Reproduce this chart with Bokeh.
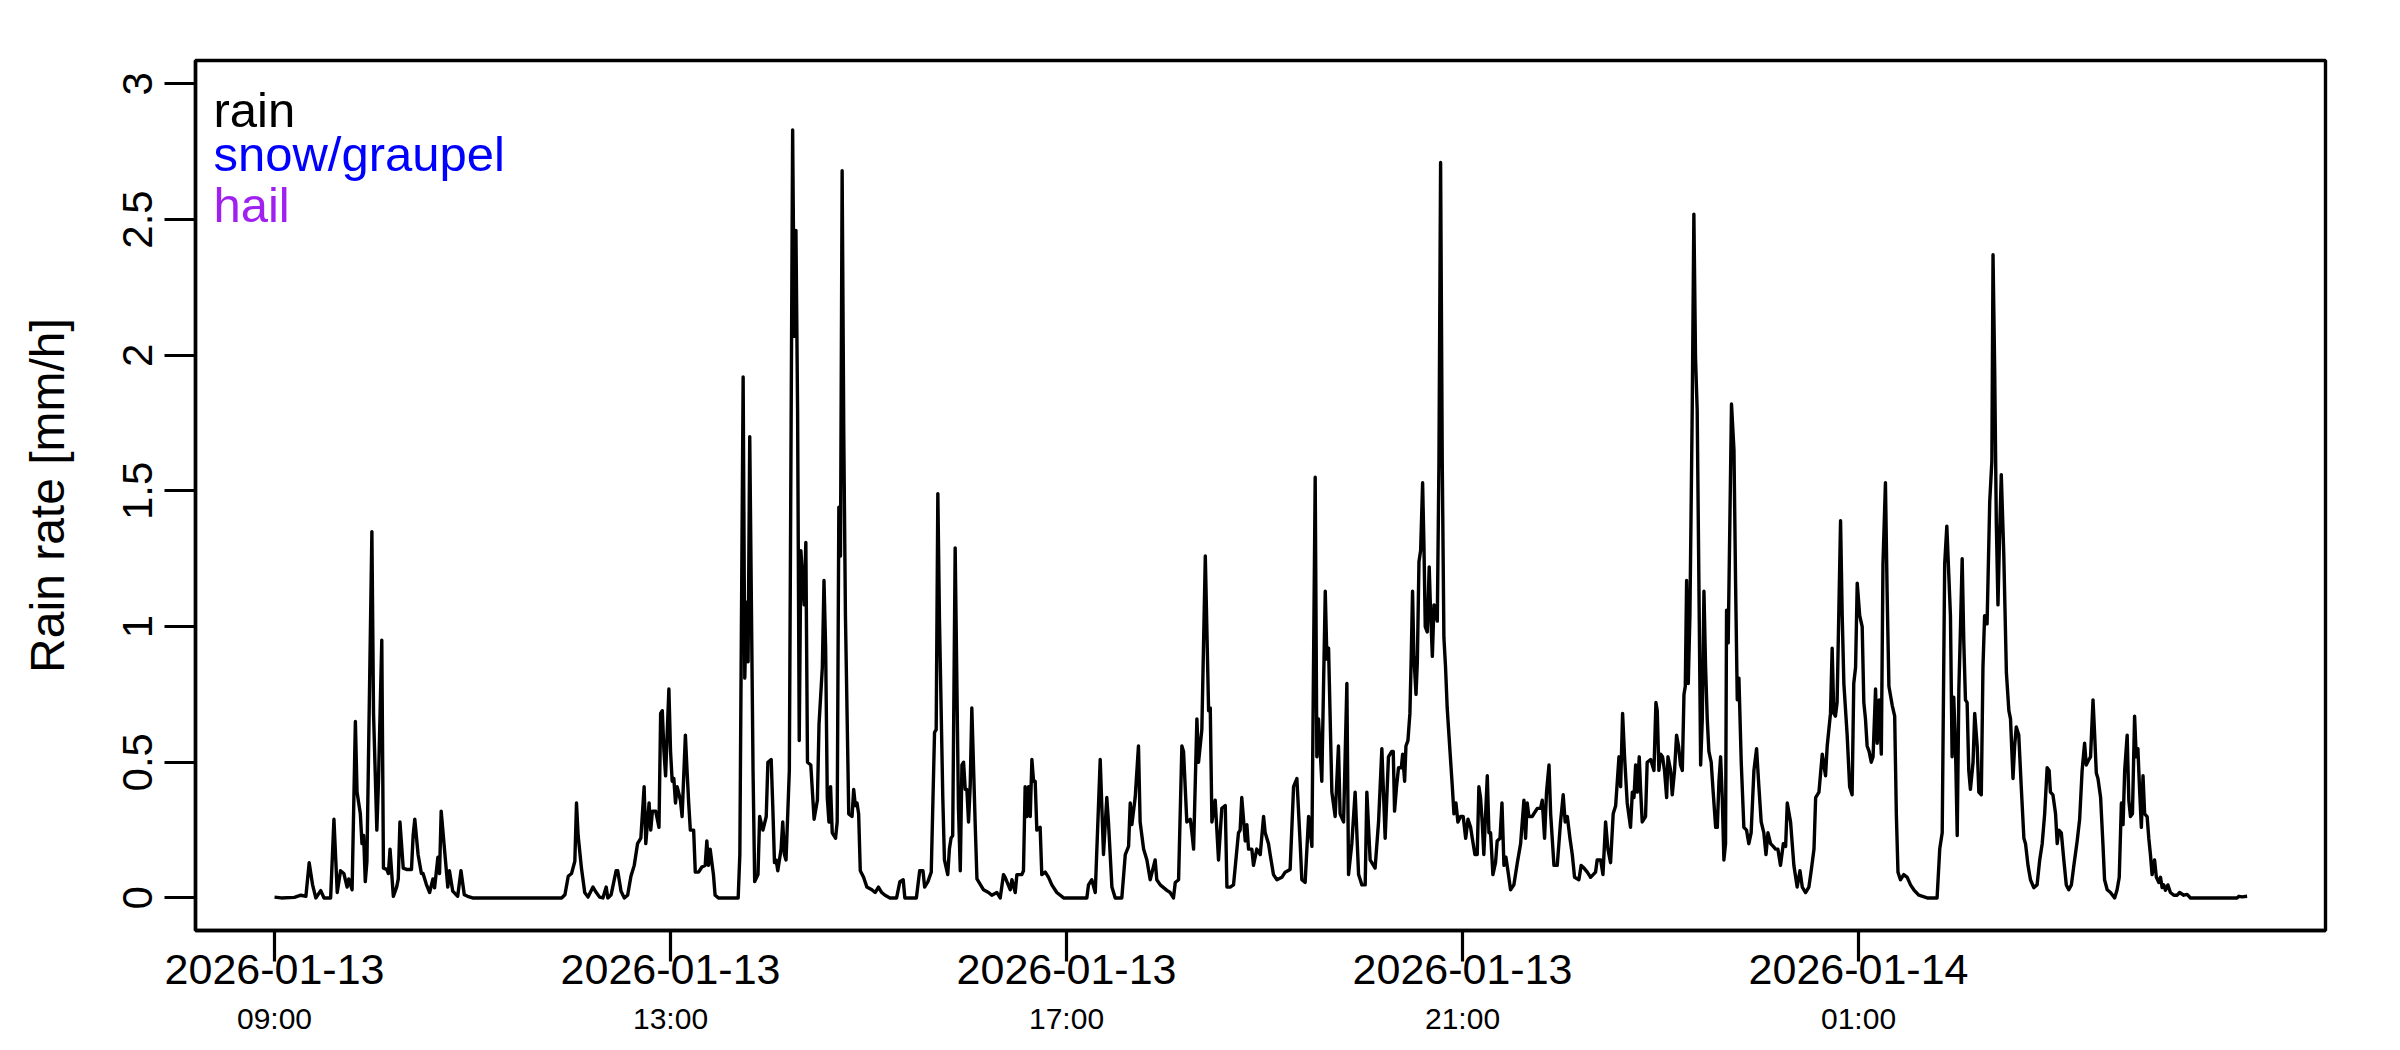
from bokeh.plotting import figure
from bokeh.models import FixedTicker, LinearAxis, Label, Range1d, CustomJSTickFormatter
from bokeh.embed import file_html
from bokeh.resources import INLINE

# minutes after 2026-01-13 09:00
minutes = [
    0, 4, 12, 16, 19, 21, 23, 25, 28, 30, 34, 36, 38, 40, 42, 44, 45, 47, 49, 50,
    52, 53, 54, 55, 56, 59, 60, 62, 63, 65, 66, 68, 69, 70, 72, 74, 75, 76, 78, 80,
    83, 84, 85, 87, 89, 90, 92, 94, 96, 97, 99, 100, 101, 103, 105, 106, 108, 111, 113, 115,
    117, 120, 174, 176, 178, 180, 182, 183, 184, 186, 188, 190, 193, 195, 197, 199, 201, 202, 204, 207,
    208, 210, 212, 214, 216, 218, 220, 222, 224, 225, 227, 228, 229, 231, 233, 234, 235, 236, 237, 239,
    240, 241, 242, 243, 244, 246, 247, 249, 250, 251, 252, 254, 255, 257, 259, 261, 262, 263, 264, 266,
    267, 269, 281, 282, 284, 285, 286, 287, 288, 290, 291, 293, 294, 296, 298, 299, 301, 302, 303, 304,
    305, 307, 308, 309, 310, 312, 314, 315, 316, 317, 318, 319, 321, 322, 323, 325, 327, 329, 330, 332,
    333, 334, 335, 336, 337, 338, 340, 341, 342, 343, 344, 345, 346, 348, 350, 351, 352, 353, 354, 355,
    357, 359, 362, 364, 366, 368, 370, 373, 377, 379, 381, 382, 389, 391, 393, 394, 396, 398, 400, 401,
    402, 403, 405, 406, 408, 409, 410, 411, 412.5, 414.5, 415.6, 416.6, 417.6, 418.6, 419.6, 420.6, 421.6, 422.6, 424.6, 425.7,
    427.7, 429.7, 432.7, 434.7, 437.8, 439.8, 441.8, 442.8, 445.9, 446.9, 448.9, 449.9, 451.9, 452.9, 453.9, 454.9, 456.0, 457.0, 458.0, 459.0,
    460.0, 461.0, 462.0, 464.0, 465.0, 467.1, 469.1, 471.1, 474.1, 478.2, 492.3, 493.3, 495.3, 497.4, 500.4, 502.4, 504.4, 505.4, 507.5, 509.5,
    513.5, 515.6, 517.6, 518.6, 519.6, 521.6, 523.6, 524.6, 526.7, 528.7, 530.7, 533.7, 534.7, 536.8, 538.8, 540.8, 542.8, 544.8, 545.9, 547.9,
    549.9, 550.9, 552.9, 555.0, 556.0, 557.0, 559.0, 560.0, 562.0, 564.1, 566.1, 567.1, 568.1, 570.1, 572.1, 574.1, 576.2, 577.2, 579.2, 581.2,
    584.2, 585.2, 586.2, 588.3, 589.3, 590.3, 592.3, 593.3, 595.3, 597.4, 599.4, 600.4, 602.4, 603.4, 605.4, 607.5, 610.5, 612.5, 615.5, 617.6,
    619.6, 621.6, 622.6, 624.6, 626.7, 628.7, 630.7, 631.7, 632.7, 634.7, 636.8, 637.8, 638.8, 640.8, 642.8, 644.8, 645.8, 647.9, 649.9, 650.9,
    652.9, 654.9, 657.0, 659.0, 661.0, 662.0, 664.0, 667.0, 669.1, 671.1, 673.1, 675.1, 677.1, 678.0, 678.8, 680.0, 681.2, 682.9, 683.7, 684.9,
    685.7, 686.9, 688.1, 688.9, 689.7, 690.5, 691.8, 692.6, 693.6, 694.6, 695.8, 696.6, 697.4, 698.6, 699.8, 700.6, 701.7, 702.7, 703.7, 704.7,
    705.7, 706.7, 707.7, 708.7, 709.7, 710.7, 712.4, 713.8, 714.8, 716.0, 717.2, 718.8, 720.4, 721.9, 723.3, 724.9, 725.9, 727.5, 728.9, 729.9,
    730.9, 731.9, 732.9, 735.0, 736.0, 737.0, 738.4, 740.0, 741.0, 742.7, 743.9, 745.1, 746.3, 747.5, 749.1, 751.1, 753.2, 755.2, 757.2, 758.2,
    759.2, 760.2, 762.2, 765.3, 767.3, 768.3, 769.7, 770.9, 772.4, 773.4, 775.4, 777.4, 779.4, 781.0, 782.2, 783.5, 785.1, 786.5, 787.9, 790.5,
    791.9, 793.6, 795.6, 797.6, 800.6, 801.6, 803.7, 805.1, 806.7, 808.1, 809.7, 811.3, 812.8, 814.8, 815.8, 817.0, 818.2, 819.8, 821.8, 822.9,
    823.9, 824.9, 825.9, 827.1, 827.9, 828.9, 830.9, 831.9, 834.0, 836.0, 837.2, 838.0, 839.0, 840.0, 841.2, 842.4, 843.7, 844.5, 846.1, 847.1,
    848.5, 849.7, 850.9, 852.1, 853.2, 854.2, 855.0, 855.8, 856.8, 857.8, 859.2, 860.2, 861.2, 862.2, 863.3, 864.3, 865.3, 866.3, 867.3, 868.3,
    869.3, 870.7, 871.9, 873.4, 874.4, 875.4, 876.4, 877.4, 878.4, 879.4, 880.0, 881.0, 883.0, 884.5, 885.5, 886.5, 887.5, 888.9, 890.5, 892.1,
    893.5, 894.9, 896.6, 898.2, 899.6, 901.0, 902.6, 903.9, 905.1, 906.7, 908.3, 909.7, 911.1, 912.7, 914.4, 915.8, 916.8, 918.8, 920.8, 922.8,
    924.5, 925.9, 927.9, 929.9, 931.3, 933.0, 934.0, 936.0, 938.0, 940.0, 941.0, 943.0, 944.0, 945.0, 946.0, 947.0, 949.1, 950.1, 951.1, 953.1,
    954.6, 956.1, 957.1, 958.2, 959.2, 960.7, 962.2, 963.2, 964.2, 965.2, 966.4, 967.7, 968.8, 970.3, 971.3, 972.5, 973.8, 974.8, 976.3, 977.3,
    978.4, 980.4, 981.9, 982.9, 983.9, 985.4, 987.4, 989.5, 991.5, 993.5, 996.5, 1001.6, 1007.6, 1009.2, 1010.7, 1012.2, 1013.5, 1014.7, 1015.7, 1016.7,
    1017.7, 1018.8, 1019.8, 1020.8, 1021.8, 1022.8, 1023.8, 1024.8, 1025.8, 1026.8, 1027.8, 1029.4, 1030.4, 1031.9, 1032.9, 1034.4, 1035.4, 1036.4, 1037.9, 1039.5,
    1040.8, 1041.5, 1042.5, 1043.5, 1044.5, 1045.5, 1046.5, 1048.0, 1049.6, 1051.1, 1052.1, 1053.6, 1054.6, 1055.6, 1057.1, 1058.6, 1060.2, 1061.2, 1062.7, 1064.2,
    1066.2, 1068.2, 1069.8, 1071.3, 1072.8, 1074.3, 1075.5, 1076.3, 1077.8, 1079.4, 1080.4, 1081.4, 1082.9, 1084.4, 1085.9, 1087.4, 1089.0, 1090.5, 1092.5, 1094.0,
    1095.5, 1097.0, 1098.0, 1099.6, 1100.6, 1102.1, 1103.1, 1104.1, 1105.1, 1106.7, 1108.1, 1109.1, 1110.7, 1112.7, 1115.2, 1116.7, 1118.0, 1119.3, 1120.3, 1121.3,
    1122.8, 1123.8, 1124.8, 1126.0, 1127.3, 1128.3, 1129.3, 1130.4, 1131.4, 1132.4, 1133.4, 1134.9, 1135.9, 1136.9, 1137.9, 1139.4, 1140.5, 1142.0, 1143.0, 1144.0,
    1145.0, 1146.0, 1147.5, 1149.0, 1151.1, 1153.1, 1154.6, 1157.1, 1159.1, 1161.2, 1189.4, 1190.5, 1192.5, 1195.5,
]

# rain rate [mm/h]
rain_rate = [
    0.003, 0.0, 0.002, 0.01, 0.006, 0.13, 0.05, 0.0, 0.027, 0.0, 0.0, 0.29, 0.02, 0.10, 0.09, 0.04, 0.07, 0.03, 0.65, 0.39,
    0.31, 0.20, 0.23, 0.06, 0.135, 1.35, 0.68, 0.25, 0.43, 0.95, 0.11, 0.105, 0.09, 0.18, 0.006, 0.04, 0.07, 0.28, 0.11, 0.105,
    0.105, 0.23, 0.29, 0.16, 0.09, 0.09, 0.05, 0.02, 0.07, 0.037, 0.15, 0.09, 0.32, 0.18, 0.04, 0.10, 0.025, 0.006, 0.10, 0.012,
    0.006, 0.0, 0.0, 0.012, 0.08, 0.09, 0.135, 0.35, 0.23, 0.11, 0.02, 0.003, 0.04, 0.02, 0.003, 0.0, 0.04, 0.0, 0.012, 0.10,
    0.10, 0.025, 0.0, 0.01, 0.08, 0.12, 0.20, 0.22, 0.41, 0.20, 0.35, 0.25, 0.32, 0.32, 0.26, 0.68, 0.69, 0.54, 0.45, 0.77,
    0.54, 0.43, 0.44, 0.35, 0.41, 0.36, 0.30, 0.60, 0.47, 0.35, 0.25, 0.25, 0.095, 0.095, 0.114, 0.12, 0.21, 0.12, 0.18, 0.086,
    0.01, 0.0, 0.0, 0.16, 1.92, 0.81, 1.09, 0.87, 1.70, 0.47, 0.06, 0.086, 0.30, 0.25, 0.30, 0.50, 0.51, 0.33, 0.13, 0.14,
    0.10, 0.18, 0.28, 0.16, 0.14, 0.47, 2.83, 2.07, 2.46, 1.80, 0.58, 1.28, 1.08, 1.31, 0.50, 0.49, 0.29, 0.36, 0.64, 0.85,
    1.17, 0.92, 0.37, 0.28, 0.41, 0.24, 0.22, 0.28, 1.44, 1.26, 2.68, 1.70, 1.04, 0.31, 0.30, 0.40, 0.34, 0.35, 0.31, 0.10,
    0.076, 0.04, 0.03, 0.02, 0.04, 0.02, 0.01, 0.0, 0.0, 0.06, 0.067, 0.0, 0.0, 0.10, 0.10, 0.04, 0.06, 0.095, 0.61, 0.62,
    1.49, 1.02, 0.37, 0.14, 0.086, 0.18, 0.22, 0.23, 1.29, 0.33, 0.10, 0.49, 0.50, 0.40, 0.40, 0.28, 0.41, 0.70, 0.28, 0.07,
    0.05, 0.03, 0.02, 0.01, 0.02, 0.0, 0.086, 0.076, 0.03, 0.067, 0.02, 0.086, 0.086, 0.086, 0.10, 0.41, 0.30, 0.41, 0.30, 0.51,
    0.43, 0.43, 0.25, 0.26, 0.086, 0.095, 0.076, 0.048, 0.02, 0.0, 0.0, 0.048, 0.067, 0.02, 0.51, 0.16, 0.37, 0.28, 0.04, 0.0,
    0.0, 0.16, 0.19, 0.35, 0.27, 0.37, 0.56, 0.28, 0.18, 0.14, 0.067, 0.14, 0.067, 0.048, 0.038, 0.028, 0.02, 0.0, 0.057, 0.067,
    0.56, 0.54, 0.28, 0.29, 0.24, 0.18, 0.66, 0.50, 0.62, 1.26, 0.69, 0.70, 0.28, 0.36, 0.14, 0.33, 0.34, 0.04, 0.04, 0.048,
    0.24, 0.25, 0.37, 0.21, 0.27, 0.18, 0.18, 0.12, 0.18, 0.16, 0.30, 0.24, 0.20, 0.16, 0.086, 0.067, 0.076, 0.095, 0.105, 0.41,
    0.44, 0.20, 0.067, 0.057, 0.30, 0.19, 1.55, 0.52, 0.66, 0.43, 1.13, 0.88, 0.92, 0.39, 0.30, 0.56, 0.31, 0.28, 0.79, 0.086,
    0.20, 0.39, 0.086, 0.048, 0.048, 0.39, 0.14, 0.11, 0.28, 0.55, 0.22, 0.52, 0.54, 0.54, 0.32, 0.41, 0.48, 0.48, 0.53, 0.43,
    0.56, 0.58, 0.68, 0.89, 1.13, 0.89, 0.75, 0.87, 1.24, 1.28, 1.53, 1.30, 1.00, 0.98, 1.22, 1.06, 0.89, 1.08, 1.06, 1.02,
    1.61, 2.71, 1.61, 0.96, 0.85, 0.70, 0.54, 0.41, 0.31, 0.35, 0.28, 0.30, 0.30, 0.22, 0.29, 0.26, 0.22, 0.16, 0.16, 0.41,
    0.37, 0.28, 0.16, 0.45, 0.24, 0.24, 0.086, 0.13, 0.21, 0.22, 0.35, 0.12, 0.15, 0.10, 0.03, 0.048, 0.13, 0.20, 0.36, 0.22,
    0.35, 0.30, 0.30, 0.33, 0.33, 0.36, 0.22, 0.39, 0.49, 0.31, 0.12, 0.12, 0.28, 0.38, 0.28, 0.30, 0.22, 0.16, 0.076, 0.067,
    0.12, 0.11, 0.095, 0.076, 0.095, 0.14, 0.14, 0.086, 0.28, 0.18, 0.13, 0.31, 0.34, 0.52, 0.41, 0.68, 0.52, 0.35, 0.26, 0.39,
    0.37, 0.49, 0.39, 0.52, 0.40, 0.28, 0.30, 0.50, 0.51, 0.47, 0.72, 0.69, 0.47, 0.53, 0.52, 0.47, 0.37, 0.52, 0.47, 0.38,
    0.47, 0.60, 0.56, 0.49, 0.47, 0.75, 0.78, 1.17, 0.79, 1.04, 1.80, 2.52, 1.99, 1.80, 1.13, 0.49, 0.66, 1.13, 0.85, 0.66,
    0.54, 0.50, 0.39, 0.26, 0.26, 0.43, 0.52, 0.37, 0.14, 0.20, 1.06, 0.94, 1.82, 1.65, 1.15, 0.73, 0.81, 0.50, 0.26, 0.25,
    0.20, 0.24, 0.47, 0.55, 0.41, 0.28, 0.24, 0.16, 0.24, 0.20, 0.19, 0.18, 0.18, 0.12, 0.20, 0.19, 0.35, 0.28, 0.12, 0.04,
    0.10, 0.04, 0.02, 0.04, 0.10, 0.18, 0.37, 0.39, 0.53, 0.45, 0.56, 0.68, 0.92, 0.68, 0.67, 0.72, 1.39, 1.04, 0.79, 0.60,
    0.41, 0.38, 0.79, 0.85, 1.16, 1.04, 1.00, 0.72, 0.66, 0.56, 0.54, 0.50, 0.52, 0.77, 0.57, 0.73, 0.53, 1.23, 1.53, 1.13,
    0.78, 0.71, 0.67, 0.31, 0.095, 0.067, 0.086, 0.076, 0.048, 0.03, 0.01, 0.0, 0.0, 0.18, 0.24, 1.23, 1.37, 1.19, 1.04, 0.52,
    0.74, 0.54, 0.23, 0.77, 1.00, 1.25, 0.94, 0.73, 0.72, 0.47, 0.40, 0.50, 0.68, 0.56, 0.39, 0.38, 0.85, 1.04, 1.01, 1.46,
    1.61, 2.37, 1.95, 1.38, 1.08, 1.34, 1.56, 1.27, 0.83, 0.69, 0.66, 0.44, 0.56, 0.63, 0.60, 0.41, 0.22, 0.20, 0.12, 0.067,
    0.038, 0.048, 0.14, 0.20, 0.31, 0.48, 0.47, 0.39, 0.38, 0.31, 0.20, 0.25, 0.24, 0.14, 0.048, 0.03, 0.048, 0.12, 0.21, 0.29,
    0.47, 0.57, 0.49, 0.51, 0.52, 0.73, 0.60, 0.46, 0.44, 0.37, 0.20, 0.067, 0.03, 0.02, 0.0, 0.03, 0.076, 0.35, 0.27, 0.47,
    0.60, 0.36, 0.30, 0.31, 0.67, 0.52, 0.55, 0.39, 0.26, 0.45, 0.31, 0.30, 0.22, 0.16, 0.086, 0.14, 0.076, 0.057, 0.076, 0.038,
    0.048, 0.028, 0.048, 0.02, 0.01, 0.01, 0.02, 0.01, 0.013, 0.0, 0.0, 0.006, 0.004, 0.006,
]

x_ticks = [0, 240, 480, 720, 960]
x_date_labels = ["2026-01-13", "2026-01-13", "2026-01-13", "2026-01-13", "2026-01-14"]
x_time_labels = ["09:00", "13:00", "17:00", "21:00", "01:00"]
y_ticks = [0, 0.5, 1, 1.5, 2, 2.5, 3]
y_tick_labels = ["0", "0.5", "1", "1.5", "2", "2.5", "3"]
y_label = "Rain rate [mm/h]"
legend_labels = ["rain", "snow/graupel", "hail"]
legend_colors = ["black", "#0000FF", "#A020F0"]

FONT = "Liberation Sans"
JS = "const i = tk.indexOf(tick); return i >= 0 ? lb[i] : '';"

p = figure(width=2384, height=1050, output_backend="svg", toolbar_location=None,
           x_range=Range1d(-47.9, 1243.0), y_range=Range1d(-0.12, 3.086),
           x_axis_location=None, y_axis_location=None,
           min_border_left=195, min_border_right=59, min_border_top=60, min_border_bottom=120)
p.background_fill_color = "white"
p.border_fill_color = "white"
p.outline_line_color = "black"
p.outline_line_width = 3.4
p.outline_line_alpha = 1.0
p.grid.grid_line_color = None

yax = LinearAxis(ticker=FixedTicker(ticks=y_ticks),
                 formatter=CustomJSTickFormatter(args=dict(tk=y_ticks, lb=y_tick_labels), code=JS))
yax.axis_label = y_label
yax.axis_label_text_font = FONT
yax.axis_label_text_font_size = "48px"
yax.axis_label_text_font_style = "normal"
yax.axis_label_text_color = "black"
yax.axis_label_standoff = 47
yax.major_label_text_font = FONT
yax.major_label_text_font_size = "42px"
yax.major_label_text_color = "black"
yax.major_label_orientation = "vertical"
yax.major_label_standoff = 12
yax.major_tick_out = 31
yax.major_tick_in = 0
yax.major_tick_line_width = 3.2
yax.major_tick_line_color = "black"
yax.minor_tick_line_color = None
yax.axis_line_width = 3.4
yax.axis_line_color = "black"
p.add_layout(yax, "left")

xax = LinearAxis(ticker=FixedTicker(ticks=x_ticks),
                 formatter=CustomJSTickFormatter(args=dict(tk=x_ticks, lb=x_date_labels), code=JS))
xax.major_label_text_font = FONT
xax.major_label_text_font_size = "43px"
xax.major_label_text_color = "black"
xax.major_label_standoff = -7
xax.major_tick_out = 31
xax.major_tick_in = 0
xax.major_tick_line_width = 3.2
xax.major_tick_line_color = "black"
xax.minor_tick_line_color = None
xax.axis_line_width = 3.4
xax.axis_line_color = "black"
p.add_layout(xax, "below")

xax2 = LinearAxis(ticker=FixedTicker(ticks=x_ticks),
                  formatter=CustomJSTickFormatter(args=dict(tk=x_ticks, lb=x_time_labels), code=JS))
xax2.major_label_text_font = FONT
xax2.major_label_text_font_size = "30px"
xax2.major_label_text_color = "black"
xax2.major_label_standoff = 15
xax2.major_tick_out = 0
xax2.major_tick_in = 0
xax2.major_tick_line_color = None
xax2.minor_tick_line_color = None
xax2.axis_line_color = None
p.add_layout(xax2, "below")

p.line(minutes, rain_rate, line_color="black", line_width=3.4, line_join="round")

legend_x = -37.0
legend_y = [2.903, 2.741, 2.553]
for lab, col, ly in zip(legend_labels, legend_colors, legend_y):
    p.add_layout(Label(x=legend_x, y=ly, text=lab, text_color=col, text_font=FONT,
                       text_font_size="49px", text_baseline="alphabetic", text_align="left"))

open("out.html", "w").write(file_html(p, INLINE))
